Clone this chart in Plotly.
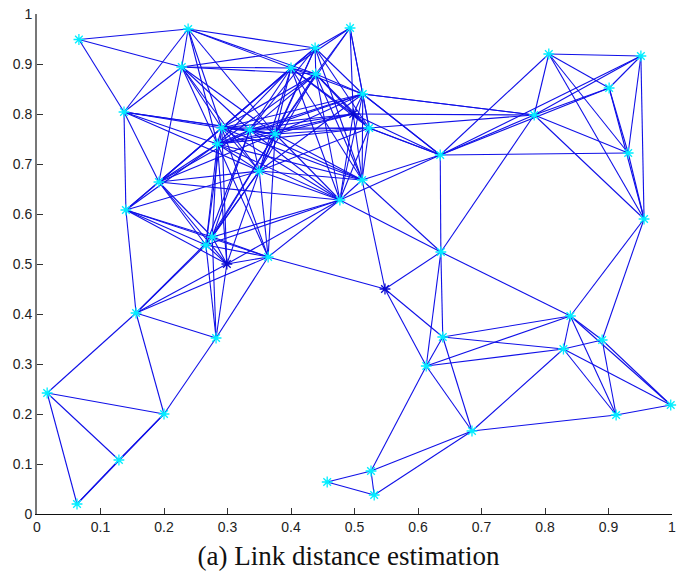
import plotly.graph_objects as go

node_names = list("ABCDEFGHIJKLMNOPQRSTUVWXYZ") + list("abcdefghijklmnopqrstuvwx")
node_x = [0.066,0.238,0.228,0.137,0.438,0.400,0.439,0.493,0.513,0.523,0.291,0.335,0.375,0.284,0.350,0.192,0.140,0.477,0.512,0.635,0.783,0.806,0.951,0.901,0.931,0.956,
          0.636,0.548,0.276,0.266,0.299,0.364,0.156,0.282,0.016,0.200,0.129,0.063,0.457,0.526,0.531,0.685,0.912,0.998,0.613,0.639,0.829,0.840,0.890,0.498]
node_y = [0.949,0.970,0.894,0.804,0.932,0.892,0.880,0.972,0.840,0.772,0.772,0.768,0.760,0.740,0.686,0.664,0.608,0.628,0.668,0.718,0.798,0.920,0.916,0.852,0.722,0.590,
          0.524,0.450,0.554,0.538,0.500,0.514,0.402,0.352,0.242,0.200,0.108,0.020,0.064,0.086,0.038,0.166,0.198,0.218,0.296,0.354,0.330,0.396,0.348,0.800]
dark_nodes = ["e", "b", "x"]

edge_groups = {
    "A": "BCD",
    "B": "CDEFGKNM",
    "C": "EFGDPKLNOM",
    "D": "PQKLMNO",
    "P": "QKNLMOdceR",
    "Q": "NKOcdef",
    "g": "decfhijQ",
    "h": "decfj",
    "i": "jkl",
    "j": "kl",
    "k": "l",
    "d": "cefKNLMOR",
    "c": "efNLMOR",
    "e": "fRNKO",
    "f": "RONMKb",
    "O": "KLMNRSJIFGE",
    "R": "STKLMNJIGFa",
    "S": "Tab",
    "T": "aUYIJVXW",
    "U": "IJxaVWXYZ",
    "V": "WXYZ",
    "W": "XYZ",
    "X": "YZ",
    "Y": "Z",
    "Z": "vw",
    "a": "stbv",
    "b": "st",
    "s": "tnpuv",
    "t": "puv",
    "p": "unoq",
    "n": "mo",
    "m": "o",
    "u": "vwqr",
    "v": "wqr",
    "w": "qr",
    "q": "r",
    "E": "HFGIKLMJS",
    "H": "FGIJxM",
    "F": "GIJKLMNxPS",
    "G": "IJKLMNSx",
    "I": "JxKLMNSTU",
    "J": "xKLMNST",
    "x": "KLMNRST",
    "K": "LMNS",
    "L": "MNS",
    "M": "NS",
    "N": "S",
}

tick_values = [0, 0.1, 0.2, 0.3, 0.4, 0.5, 0.6, 0.7, 0.8, 0.9, 1]
tick_labels = ["0", "0.1", "0.2", "0.3", "0.4", "0.5", "0.6", "0.7", "0.8", "0.9", "1"]
caption = "(a) Link distance estimation"

pos = {n: (x, y) for n, x, y in zip(node_names, node_x, node_y)}
lx, ly = [], []
for a, targets in edge_groups.items():
    for b in targets:
        lx += [pos[a][0], pos[b][0], None]
        ly += [pos[a][1], pos[b][1], None]

fig = go.Figure()
fig.add_trace(go.Scatter(x=lx, y=ly, mode="lines", line=dict(color="#1010e8", width=1.1),
                         hoverinfo="skip", cliponaxis=False))
colors = ["#0a0ad0" if n in dark_nodes else "#00eeff" for n in node_names]
fig.add_trace(go.Scatter(x=node_x, y=node_y, mode="markers", cliponaxis=False,
                         marker=dict(symbol="asterisk-open", size=9, color=colors,
                                     line=dict(width=1.3, color=colors))))

axis = dict(range=[0, 1], tickvals=tick_values, ticktext=tick_labels, ticks="inside", ticklen=6,
            tickwidth=1, tickcolor="#333", showgrid=False, zeroline=False, showline=True, automargin=False,
            tickfont=dict(family="Liberation Sans", size=14, color="#222"))
fig.update_xaxes(linecolor="#111", linewidth=1.3, domain=[37/686, 672/686], **axis)
fig.update_yaxes(linecolor="#777", linewidth=2, domain=[57/571, 557/571], **axis)
fig.update_layout(width=686, height=571, showlegend=False, plot_bgcolor="white", paper_bgcolor="white",
                  margin=dict(l=0, r=0, t=0, b=0, pad=0),
                  title=dict(text=caption, x=348.5/686, y=1-556/571, xanchor="center", yanchor="middle",
                             font=dict(family="Liberation Serif", size=27, color="#111")))
fig.write_html("out.html", config={"displayModeBar": False},
               post_script="document.body.style.margin='0';document.documentElement.style.overflow='hidden';")
